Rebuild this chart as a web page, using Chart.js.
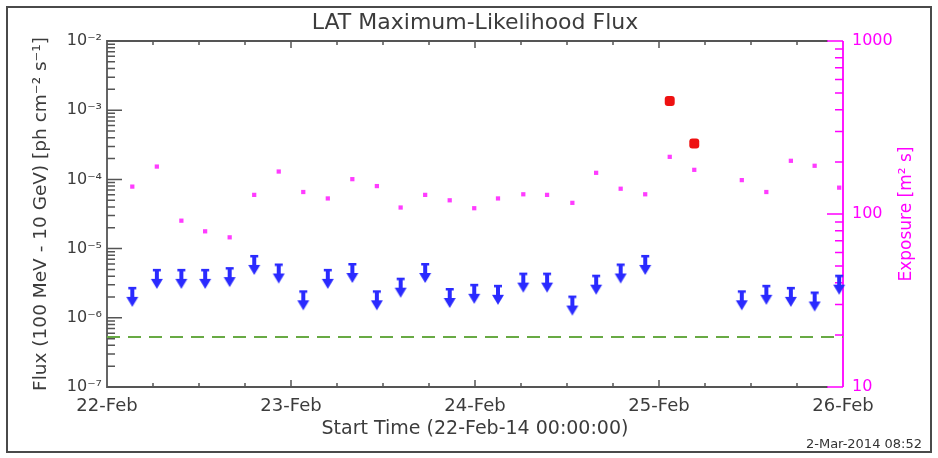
<!DOCTYPE html>
<html>
<head>
<meta charset="utf-8">
<script src="https://cdn.jsdelivr.net/npm/chart.js@4.4.1/dist/chart.umd.min.js"></script>
<style>
  html, body { margin: 0; padding: 0; background: #fff; }
  canvas { display: block; }
</style>
</head>
<body>
<canvas id="lc" width="938" height="458"></canvas>
<script>
// Light-curve bins, hours after 22-Feb-2014 00:00:00
const binHours = [3.3, 6.5, 9.7, 12.8, 16.0, 19.2, 22.4, 25.6, 28.8, 32.0,
                  35.2, 38.3, 41.5, 44.7, 47.9, 51.0, 54.3, 57.4, 60.7, 63.8,
                  67.0, 70.2, 73.4, 76.6, 79.7, 82.8, 86.0, 89.2, 92.3, 95.5];

// 95% flux upper limits (ph cm^-2 s^-1); null where the bin has a detection or no data
const upperLimits = [2.8e-6, 5.1e-6, 5.1e-6, 5.1e-6, 5.4e-6, 8.1e-6, 6.1e-6, 2.5e-6, 5.1e-6, 6.2e-6,
                     2.5e-6, 3.8e-6, 6.2e-6, 2.7e-6, 3.1e-6, 3.0e-6, 4.5e-6, 4.5e-6, 2.1e-6, 4.2e-6,
                     6.1e-6, 8.1e-6, null, null, null, 2.5e-6, 3.0e-6, 2.8e-6, 2.4e-6, 4.2e-6];

// Detected fluxes (ph cm^-2 s^-1)
const detectedFlux = [null, null, null, null, null, null, null, null, null, null,
                      null, null, null, null, null, null, null, null, null, null,
                      null, null, 1.36e-3, 3.3e-4, null, null, null, null, null, null];

// Exposure per bin (m^2 s)
const exposure = [144, 188, 91.5, 79.4, 73.3, 129, 176, 134, 123, 159,
                  145, 109, 129, 120, 108, 123, 130, 129, 116, 173,
                  140, 130, 214, 180, null, 157, 134, 203, 190, 142];

// Reference flux level (dashed line)
const fluxThreshold = 5.3e-7;

// Axis ticks and labels
const dayTicks = [0, 24, 48, 72, 96];
const dayLabels = ['22-Feb', '23-Feb', '24-Feb', '25-Feb', '26-Feb'];
const fluxTicks = [1e-7, 1e-6, 1e-5, 1e-4, 1e-3, 1e-2];
const fluxTickLabels = ['10\u207B\u2077', '10\u207B\u2076', '10\u207B\u2075', '10\u207B\u2074', '10\u207B\u00B3', '10\u207B\u00B2'];
const exposureTicks = [10, 100, 1000];
const exposureTickLabels = ['10', '100', '1000'];

const titleText = 'LAT Maximum-Likelihood Flux';
const xTitle = 'Start Time (22-Feb-14 00:00:00)';
const yTitle = 'Flux (100 MeV - 10 GeV) [ph cm\u207B\u00B2 s\u207B\u00B9]';
const y2Title = 'Exposure [m\u00B2 s]';
const stampText = '2-Mar-2014 08:52';

const FONT = "'DejaVu Sans', sans-serif";
const INK = '#3c3c3c';
const AXIS = '#555555';
const MAGENTA = '#ff00ff';
const BLUE = '#2a2aff';

// Downward arrow marker; the cap sits at the canvas centre so it marks the value
function makeArrow(color) {
  const c = document.createElement('canvas');
  c.width = 14; c.height = 42;
  const g = c.getContext('2d');
  g.fillStyle = color;
  const cx = 7, top = 21;
  g.fillRect(cx - 4, top, 8, 2.5);
  g.fillRect(cx - 2, top, 4, 11);
  g.beginPath();
  g.moveTo(cx - 6, top + 10);
  g.lineTo(cx + 6, top + 10);
  g.lineTo(cx, top + 20);
  g.closePath();
  g.fill();
  return c;
}
const arrowMarker = makeArrow(BLUE);

function pairs(values) {
  const out = [];
  values.forEach((v, i) => { if (v != null) out.push({ x: binHours[i], y: v }); });
  return out;
}

function matchTick(list, v) {
  return list.findIndex(t => Math.abs(t - v) / t < 1e-6);
}

// Axis lines, inward tick marks, outer frame, right-hand title and date stamp
const framePlugin = {
  id: 'frame',
  beforeDatasetsDraw(chart) {
    const { ctx, chartArea: a, scales } = chart;
    const xs = scales.x, ys = scales.y, y2 = scales.y2;
    ctx.save();
    ctx.lineCap = 'butt';

    // left / top / bottom axis lines
    ctx.strokeStyle = AXIS;
    ctx.lineWidth = 1.8;
    ctx.beginPath();
    ctx.moveTo(a.right - 15, a.top);
    ctx.lineTo(a.left, a.top);
    ctx.lineTo(a.left, a.bottom);
    ctx.lineTo(a.right - 15, a.bottom);
    ctx.stroke();

    // left log ticks
    ctx.lineWidth = 1.5;
    ctx.beginPath();
    for (let k = -7; k <= -2; k++) {
      for (let m = 1; m <= 9; m++) {
        const v = m * Math.pow(10, k);
        if (v > 1.0001e-2) break;
        const py = ys.getPixelForValue(v);
        const len = m === 1 ? 15 : 8;
        ctx.moveTo(a.left, py);
        ctx.lineTo(a.left + len, py);
      }
    }
    ctx.stroke();

    // time ticks every 6 hours, top and bottom
    ctx.beginPath();
    for (let h = 6; h < 96; h += 6) {
      const px = xs.getPixelForValue(h);
      const len = h % 24 === 0 ? 7 : 4;
      ctx.moveTo(px, a.bottom);
      ctx.lineTo(px, a.bottom - len);
      ctx.moveTo(px, a.top);
      ctx.lineTo(px, a.top + len);
    }
    ctx.stroke();

    // right exposure axis
    ctx.strokeStyle = MAGENTA;
    ctx.lineWidth = 1.8;
    ctx.beginPath();
    ctx.moveTo(a.right, a.top);
    ctx.lineTo(a.right, a.bottom);
    ctx.stroke();
    ctx.lineWidth = 1.5;
    ctx.beginPath();
    for (let k = 1; k <= 3; k++) {
      for (let m = 1; m <= 9; m++) {
        const v = m * Math.pow(10, k);
        if (v > 1000.01) break;
        const py = y2.getPixelForValue(v);
        const len = m === 1 ? 16 : 8;
        ctx.moveTo(a.right, py);
        ctx.lineTo(a.right - len, py);
      }
    }
    ctx.stroke();
    ctx.restore();
  },
  afterDraw(chart) {
    const { ctx, chartArea: a } = chart;
    ctx.save();
    // outer frame
    ctx.strokeStyle = '#4a4a4a';
    ctx.lineWidth = 2;
    ctx.strokeRect(7, 7, chart.width - 14, chart.height - 13);

    // right axis title, reading bottom to top
    const t = chart.options.scales.y2.title;
    ctx.fillStyle = MAGENTA;
    ctx.font = '17px ' + FONT;
    ctx.textAlign = 'center';
    ctx.textBaseline = 'middle';
    ctx.translate(a.right + 64, (a.top + a.bottom) / 2);
    ctx.rotate(-Math.PI / 2);
    ctx.fillText(t.text, 0, 0);
    ctx.restore();

    // date stamp
    ctx.save();
    ctx.fillStyle = '#333';
    ctx.font = '13px ' + FONT;
    ctx.textAlign = 'right';
    ctx.textBaseline = 'alphabetic';
    ctx.fillText(stampText, chart.width - 16, chart.height - 10.5);
    ctx.restore();
  }
};

new Chart(document.getElementById('lc'), {
  type: 'scatter',
  data: {
    datasets: [
      {
        label: 'Flux',
        data: pairs(detectedFlux),
        yAxisID: 'y',
        pointStyle: 'rectRounded',
        pointRadius: 5.8,
        backgroundColor: '#ee1111',
        borderWidth: 0,
        clip: false
      },
      {
        label: 'Upper limit',
        data: pairs(upperLimits),
        yAxisID: 'y',
        pointStyle: arrowMarker,
        pointRadius: 7,
        clip: false
      },
      {
        label: 'Exposure',
        data: pairs(exposure),
        yAxisID: 'y2',
        pointStyle: 'rect',
        pointRadius: 3,
        backgroundColor: '#ff3cff',
        borderWidth: 0,
        clip: false
      },
      {
        label: 'Threshold',
        type: 'line',
        data: [{ x: 0, y: fluxThreshold }, { x: 96, y: fluxThreshold }],
        yAxisID: 'y',
        borderColor: '#68aa44',
        borderWidth: 2,
        borderDash: [13, 8],
        pointRadius: 0,
        fill: false
      }
    ]
  },
  options: {
    responsive: false,
    animation: false,
    devicePixelRatio: 1,
    layout: { padding: 0 },
    plugins: {
      legend: { display: false },
      tooltip: { enabled: false },
      title: {
        display: true,
        text: titleText,
        fullSize: false,
        color: INK,
        font: { family: FONT, size: 22, weight: 'normal' },
        padding: { top: 10, bottom: 4.6 }
      }
    },
    scales: {
      x: {
        type: 'linear',
        position: 'bottom',
        min: 0,
        max: 96,
        afterBuildTicks: s => { s.ticks = dayTicks.map(v => ({ value: v })); },
        afterFit: s => { s.height = 71; },
        grid: { display: false, drawTicks: false },
        border: { display: false },
        ticks: {
          autoSkip: false,
          maxRotation: 0,
          padding: 9,
          color: INK,
          font: { family: FONT, size: 18 },
          callback: v => dayLabels[dayTicks.indexOf(v)]
        },
        title: {
          display: true,
          text: xTitle,
          color: INK,
          font: { family: FONT, size: 19 },
          padding: { top: 0, bottom: 18 }
        }
      },
      y: {
        type: 'logarithmic',
        position: 'left',
        min: 1e-7,
        max: 1e-2,
        afterBuildTicks: s => { s.ticks = fluxTicks.map(v => ({ value: v })); },
        afterFit: s => { s.width = 107; },
        grid: { display: false, drawTicks: false },
        border: { display: false },
        ticks: {
          autoSkip: false,
          padding: 5,
          color: INK,
          font: { family: FONT, size: 16 },
          callback: v => fluxTickLabels[matchTick(fluxTicks, v)]
        },
        title: {
          display: true,
          text: yTitle,
          color: INK,
          font: { family: FONT, size: 18.5 },
          padding: { top: 30, bottom: 0 }
        }
      },
      y2: {
        type: 'logarithmic',
        position: 'right',
        min: 10,
        max: 1000,
        afterBuildTicks: s => { s.ticks = exposureTicks.map(v => ({ value: v })); },
        afterFit: s => { s.width = 95; },
        grid: { display: false, drawTicks: false },
        border: { display: false },
        ticks: {
          autoSkip: false,
          padding: 9,
          color: MAGENTA,
          font: { family: FONT, size: 16 },
          callback: v => exposureTickLabels[matchTick(exposureTicks, v)]
        },
        title: { display: false, text: y2Title }
      }
    }
  },
  plugins: [framePlugin]
});
</script>
</body>
</html>
